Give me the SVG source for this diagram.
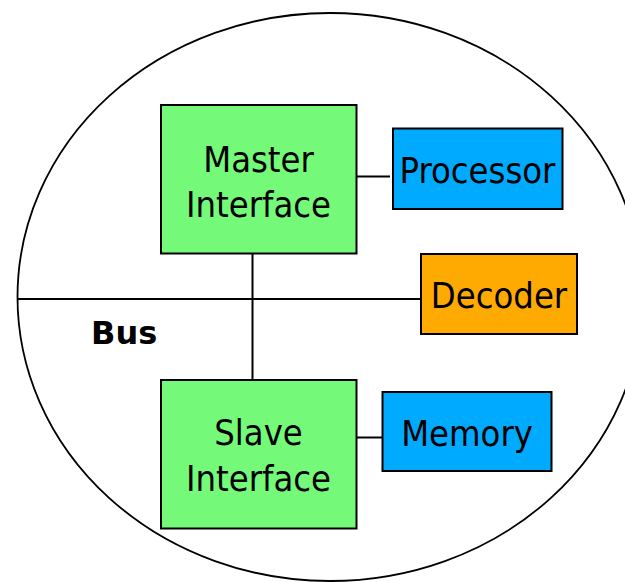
<svg xmlns="http://www.w3.org/2000/svg" width="625" height="582" viewBox="0 0 625 582">
  <style>
    .box { stroke: #000; stroke-width: 2; }
    .iface { fill: #75F978; }
    .cpu { fill: #00AAFF; }
    .dec { fill: #FFAA00; }
    .label { font-family: "DejaVu Sans Condensed", "DejaVu Sans", sans-serif; font-size: 36px; fill: #000; text-anchor: middle; }
    .bus { font-family: "DejaVu Sans", sans-serif; font-weight: bold; font-size: 32px; fill: #000; }
    .wire { stroke: #000; stroke-width: 2; fill: none; }
  </style>
  <rect width="625" height="582" fill="#fff"/>

  <!-- system boundary -->
  <ellipse cx="330" cy="297" rx="312.5" ry="284" fill="none" stroke="#000" stroke-width="1.8"/>

  <g id="connectors">
    <line class="wire" x1="17.5" y1="299" x2="421" y2="299"/>
    <line class="wire" x1="252.5" y1="254" x2="252.5" y2="380"/>
    <line class="wire" x1="357" y1="176.5" x2="390" y2="176.5"/>
    <line class="wire" x1="357" y1="437.5" x2="382" y2="437.5"/>
  </g>

  <text class="bus" x="91" y="344">Bus</text>

  <g id="master">
    <rect class="box iface" x="161" y="105" width="195.5" height="148.5"/>
    <text class="label" x="258.5" y="172">Master</text>
    <text class="label" x="258.5" y="217">Interface</text>
  </g>

  <g id="processor">
    <rect class="box cpu" x="393" y="128.5" width="169.5" height="80.5"/>
    <text class="label" x="477.5" y="183">Processor</text>
  </g>

  <g id="decoder">
    <rect class="box dec" x="421" y="254" width="156" height="80"/>
    <text class="label" x="499" y="308">Decoder</text>
  </g>

  <g id="slave">
    <rect class="box iface" x="161" y="380" width="195.5" height="148.5"/>
    <text class="label" x="258.5" y="445">Slave</text>
    <text class="label" x="258.5" y="491">Interface</text>
  </g>

  <g id="memory">
    <rect class="box cpu" x="382.5" y="392" width="169" height="79"/>
    <text class="label" x="467" y="446">Memory</text>
  </g>
</svg>
